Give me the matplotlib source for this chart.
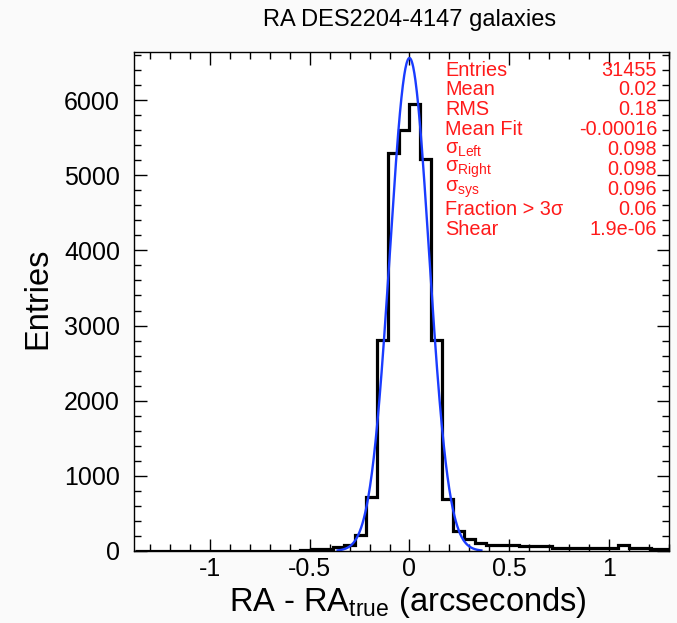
import numpy as np
import matplotlib
matplotlib.use("Agg")
import matplotlib.pyplot as plt
from matplotlib.ticker import MultipleLocator

plt.rcParams['font.family'] = ['Liberation Sans', 'DejaVu Sans']
plt.rcParams['mathtext.fontset'] = 'custom'
plt.rcParams['mathtext.rm'] = 'Liberation Sans'
plt.rcParams['mathtext.it'] = 'Liberation Sans:italic'
plt.rcParams['mathtext.bf'] = 'Liberation Sans:bold'

# ---- data ----
hist_min = -1.375
bin_width = 0.055
counts = [2, 1, 3, 2, 2, 4, 3, 2, 5, 4, 3, 5, 6, 4,
          5, 8, 25, 30, 50, 85, 210, 720,
          2810, 5300, 5600, 5950, 5220, 2810,
          690, 260, 160, 100,
          80, 75, 75, 70, 70, 65,
          45, 45, 40, 40, 40, 45,
          80, 45, 40, 20, 20, 20]

fit_mean = -0.00016
fit_sigma = 0.098
fit_amp = 6560
fit_range = (-0.36, 0.36)

stat_labels = ["Entries", "Mean", "RMS", "Mean Fit", r"σ$_{\mathrm{Left}}$",
               r"σ$_{\mathrm{Right}}$", r"σ$_{\mathrm{sys}}$", "Fraction > 3σ", "Shear"]
stat_values = ["31455", "0.02", "0.18", "-0.00016", "0.098", "0.098", "0.096", "0.06", "1.9e-06"]

title = "RA DES2204-4147 galaxies"
xlabel = r"RA - RA$_{\mathrm{true}}$ (arcseconds)"
ylabel = "Entries"

# ---- figure ----
W, H = 677, 623
fig = plt.figure(figsize=(W / 100, H / 100), dpi=100, facecolor='#fafafa')
ax = fig.add_axes([134 / W, 1 - 551 / H, (669 - 134) / W, (551 - 52) / H])
ax.set_facecolor('white')

edges = hist_min + bin_width * np.arange(len(counts) + 1)
ax.stairs(counts, edges, color='black', linewidth=2.3)

xf = np.linspace(fit_range[0], fit_range[1], 400)
yf = fit_amp * np.exp(-0.5 * ((xf - fit_mean) / fit_sigma) ** 2)
ax.plot(xf, yf, color='#1a3cff', linewidth=1.7)

ax.set_xlim(-1.38, 1.30)
ax.set_ylim(0, 6640)

ax.xaxis.set_major_locator(MultipleLocator(0.5))
ax.xaxis.set_minor_locator(MultipleLocator(0.1))
ax.yaxis.set_major_locator(MultipleLocator(1000))
ax.yaxis.set_minor_locator(MultipleLocator(200))
ax.set_xticks([-1, -0.5, 0, 0.5, 1])
ax.set_xticklabels(["-1", "-0.5", "0", "0.5", "1"])
ax.tick_params(which='both', direction='in', top=True, right=True, width=1.0,
               labelsize=18, colors='black')
ax.tick_params(which='major', length=9)
ax.tick_params(axis='x', which='major', pad=4)
ax.tick_params(axis='y', which='major', pad=10)
ax.tick_params(which='minor', length=5)
for s in ax.spines.values():
    s.set_linewidth(1.0)

fig.text(410 / W, 1 - 20 / H, title, ha='center', va='center', fontsize=17)
fig.text(408 / W, 1 - 603 / H, xlabel, ha='center', va='center', fontsize=23.5)
fig.text(38 / W, 1 - 298 / H, ylabel, ha='center', va='center', fontsize=23.5, rotation=90)

y0 = 70
dy = 19.9
for i, (lab, val) in enumerate(zip(stat_labels, stat_values)):
    y = 1 - (y0 + i * dy) / H
    fig.text(445 / W, y, lab, ha='left', va='center', fontsize=14.3, color='#ff1a1a')
    fig.text(657 / W, y, val, ha='right', va='center', fontsize=14.3, color='#ff1a1a')

fig.savefig("out.png", dpi=100, facecolor=fig.get_facecolor())
